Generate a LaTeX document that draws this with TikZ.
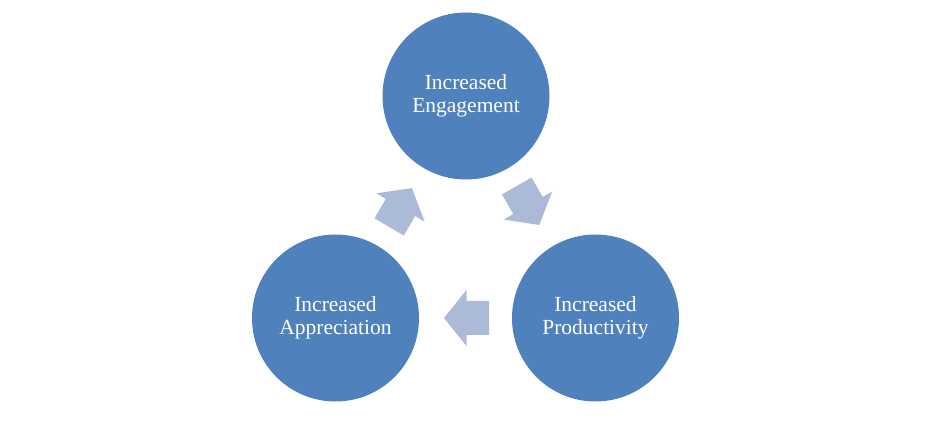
\documentclass[tikz,border=0pt]{standalone}
\usepackage{fontspec}
\setmainfont{Liberation Serif}
\definecolor{circblue}{HTML}{4F81BD}
\definecolor{arrblue}{HTML}{ABBAD6}
\tikzset{
  cyc/.style={circle, fill=circblue, draw=none, minimum size=167pt, inner sep=0pt,
    text=white, align=center, font=\fontsize{21.5pt}{23pt}\selectfont},
  blockarr/.style={fill=arrblue, draw=none}
}
\newcommand\blockarrow[3]{%
  \begin{scope}[shift={(#1,#2)}, rotate=#3]
    \fill[blockarr] (-22.5,-17) -- (0,-17) -- (0,-28) -- (22.5,0) -- (0,28) -- (0,17) -- (-22.5,17) -- cycle;
  \end{scope}}
\begin{document}
\begin{tikzpicture}[x=1pt,y=1pt]
\useasboundingbox (0,0) rectangle (934,436);
\fill[white] (0,0) rectangle (934,436);
\node[cyc] (eng) at (466,340) {Increased\\Engagement};
\node[cyc] (app) at (335.5,118) {Increased\\Appreciation};
\node[cyc] (pro) at (595.5,118) {Increased\\Productivity};
\blockarrow{400.5}{228.5}{59.6}
\blockarrow{528}{230.5}{-60}
\blockarrow{466.5}{118}{180}
\end{tikzpicture}
\end{document}
